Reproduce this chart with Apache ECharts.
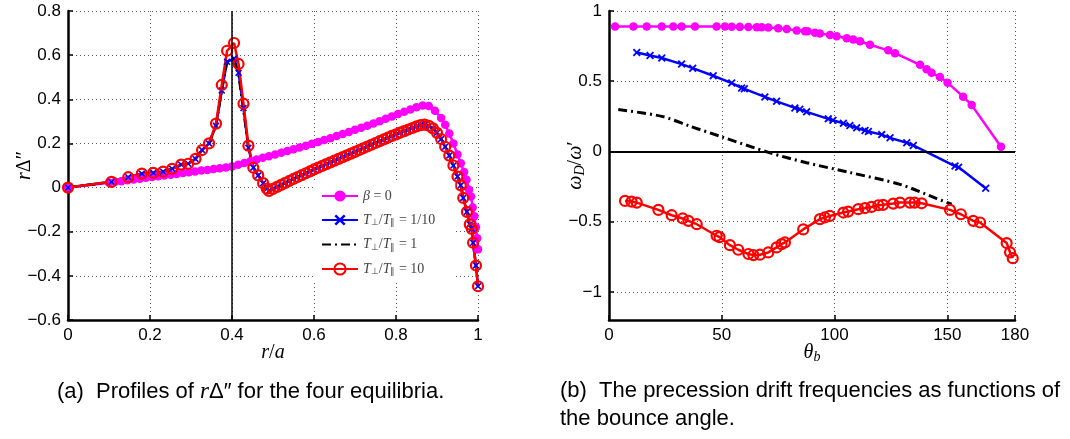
<!DOCTYPE html>
<html>
<head>
<meta charset="utf-8">
<script src="https://cdn.jsdelivr.net/npm/echarts@6/dist/echarts.min.js"></script>
<style>
  html, body { margin: 0; padding: 0; background: #fff; }
  #main { width: 1070px; height: 439px; }
</style>
</head>
<body>
<div id="main"></div>
<script>
// (a) r*Delta'' profiles, r/a grid shared by the three anisotropic cases
const rL = [
  0, 0.106, 0.147, 0.18, 0.208, 0.232, 0.254, 0.276, 0.293, 0.311,
  0.327, 0.344, 0.361, 0.375, 0.388, 0.405, 0.416, 0.428, 0.44, 0.452,
  0.464, 0.476, 0.485, 0.49, 0.50, 0.51, 0.52, 0.53, 0.54, 0.55,
  0.56, 0.57, 0.58, 0.59, 0.60, 0.61, 0.62, 0.63, 0.64, 0.65,
  0.66, 0.67, 0.68, 0.69, 0.70, 0.71, 0.72, 0.73, 0.74, 0.75,
  0.76, 0.77, 0.78, 0.79, 0.80, 0.81, 0.82, 0.83, 0.84, 0.85,
  0.86, 0.87, 0.88, 0.89, 0.90, 0.91, 0.92, 0.93, 0.94, 0.95,
  0.958, 0.964, 0.973, 0.98, 0.985, 0.988, 0.995, 1.0
];
const yRed = [
  0, 0.026, 0.047, 0.063, 0.067, 0.072, 0.085, 0.104, 0.108, 0.13,
  0.17, 0.2, 0.29, 0.465, 0.62, 0.655, 0.56, 0.38, 0.19, 0.09,
  0.055, 0.02, -0.005, -0.015, -0.006, 0.003, 0.012, 0.021, 0.03, 0.039,
  0.048, 0.056, 0.065, 0.073, 0.082, 0.09, 0.098, 0.106, 0.114, 0.122,
  0.13, 0.138, 0.146, 0.154, 0.162, 0.17, 0.178, 0.186, 0.194, 0.202,
  0.21, 0.218, 0.226, 0.234, 0.241, 0.249, 0.256, 0.263, 0.27, 0.277,
  0.283, 0.285, 0.28, 0.268, 0.248, 0.22, 0.185, 0.145, 0.1, 0.05,
  0.01, -0.047, -0.11, -0.167, -0.187, -0.25, -0.353, -0.447
];
const yBlue = [
  0, 0.026, 0.047, 0.063, 0.067, 0.072, 0.085, 0.104, 0.108, 0.13,
  0.17, 0.2, 0.28, 0.44, 0.57, 0.585, 0.52, 0.36, 0.18, 0.09,
  0.055, 0.02, -0.005, -0.015, -0.006, 0.003, 0.012, 0.021, 0.03, 0.039,
  0.048, 0.056, 0.065, 0.073, 0.082, 0.09, 0.098, 0.106, 0.114, 0.122,
  0.13, 0.138, 0.146, 0.154, 0.162, 0.17, 0.178, 0.186, 0.194, 0.202,
  0.21, 0.218, 0.226, 0.234, 0.241, 0.249, 0.256, 0.263, 0.27, 0.277,
  0.283, 0.285, 0.28, 0.268, 0.248, 0.22, 0.185, 0.145, 0.1, 0.05,
  0.01, -0.047, -0.11, -0.167, -0.187, -0.25, -0.353, -0.447
];
const yBlack = [
  0, 0.026, 0.047, 0.063, 0.067, 0.072, 0.085, 0.104, 0.108, 0.13,
  0.17, 0.2, 0.28, 0.44, 0.57, 0.58, 0.51, 0.35, 0.18, 0.09,
  0.055, 0.02, -0.005, -0.015, -0.006, 0.003, 0.012, 0.021, 0.03, 0.039,
  0.048, 0.056, 0.065, 0.073, 0.082, 0.09, 0.098, 0.106, 0.114, 0.122,
  0.13, 0.138, 0.146, 0.154, 0.162, 0.17, 0.178, 0.186, 0.194, 0.202,
  0.21, 0.218, 0.226, 0.234, 0.241, 0.249, 0.256, 0.263, 0.27, 0.277,
  0.283, 0.285, 0.28, 0.268, 0.248, 0.22, 0.185, 0.145, 0.1, 0.05,
  0.01, -0.047, -0.11, -0.167, -0.187, -0.25, -0.353, -0.447
];
// beta = 0 case has its own r grid
const rM = [
  0, 0.1, 0.115, 0.13, 0.145, 0.16, 0.175,
  0.19, 0.205, 0.22, 0.235, 0.25, 0.265, 0.28, 0.295, 0.31, 0.325,
  0.34, 0.355, 0.37, 0.385, 0.4, 0.415, 0.43, 0.445, 0.46, 0.475,
  0.49, 0.505, 0.52, 0.535, 0.55, 0.565, 0.58, 0.595, 0.61, 0.625,
  0.64, 0.655, 0.67, 0.685, 0.7, 0.715, 0.73, 0.745, 0.76, 0.775,
  0.79, 0.805, 0.82, 0.835, 0.85, 0.865, 0.88, 0.895, 0.91, 0.92,
  0.93, 0.94, 0.95, 0.958, 0.966, 0.972, 0.978, 0.983, 0.987, 0.991,
  0.995, 0.998, 1.0
];
const yM = [
  0, 0.022, 0.026, 0.029, 0.033, 0.037, 0.04,
  0.044, 0.048, 0.051, 0.055, 0.058, 0.062, 0.066, 0.069, 0.073, 0.077,
  0.08, 0.084, 0.088, 0.091, 0.095, 0.103, 0.111, 0.119, 0.127, 0.135,
  0.142, 0.15, 0.158, 0.166, 0.174, 0.182, 0.19, 0.198, 0.206, 0.215,
  0.224, 0.234, 0.243, 0.252, 0.262, 0.271, 0.28, 0.29, 0.301, 0.312,
  0.322, 0.333, 0.344, 0.354, 0.364, 0.372, 0.37, 0.348, 0.315, 0.285,
  0.245, 0.2, 0.15, 0.11, 0.07, 0.035, -0.01, -0.04, -0.09, -0.13,
  -0.18, -0.23, -0.28
];
const rMark = 0.4;   // vertical line in (a)

// (b) precession drift frequency vs bounce angle, [theta_b, omega_D/omega']
const wBeta0 = [
  [2.7, 0.89], [10.8, 0.89], [16.7, 0.89], [23.4, 0.89], [28.5, 0.89], [32.2, 0.89],
  [38.1, 0.89], [47.7, 0.89], [51.4, 0.89], [54.4, 0.888], [58, 0.887], [61.8, 0.886],
  [65.5, 0.885], [67.7, 0.884], [70.6, 0.882], [75, 0.878], [78.8, 0.872], [83.2, 0.862],
  [86.9, 0.856], [88, 0.855], [91.3, 0.845], [93.5, 0.84], [98, 0.83], [100.9, 0.82],
  [105.4, 0.806], [108.3, 0.797], [111.3, 0.785], [115.7, 0.76], [123.8, 0.72], [126.8, 0.70],
  [137.9, 0.617], [140.8, 0.586], [143, 0.56], [146.7, 0.53], [150.1, 0.49], [157, 0.39],
  [160.8, 0.33], [173.8, 0.033]
];
const wTen1 = [
  [12.3, 0.704], [18.2, 0.683], [23.4, 0.665], [32.2, 0.622], [37.1, 0.593], [46.2, 0.539],
  [54.4, 0.487], [58.8, 0.452], [60, 0.446], [69.1, 0.388], [74.3, 0.357], [82.4, 0.31],
  [84.6, 0.30], [87.6, 0.282], [97.2, 0.232], [99.3, 0.222], [103.9, 0.2], [106.8, 0.184],
  [109.8, 0.168], [113.5, 0.149], [115, 0.142], [120.9, 0.12], [124.6, 0.097], [132, 0.062],
  [134.9, 0.043], [153.4, -0.104], [155, -0.112], [167, -0.262]
];
const wIso = [
  [4.1, 0.298], [23.4, 0.25], [35.9, 0.18], [50, 0.104], [71.4, -0.01], [87.6, -0.08],
  [106.8, -0.15], [129, -0.234], [145.3, -0.336], [151.9, -0.376]
];
const wTen10 = [
  [7.1, -0.352], [10, -0.357], [12.3, -0.364], [21.9, -0.416], [27.8, -0.454], [32.7, -0.477],
  [35.2, -0.494], [38.9, -0.518], [47.7, -0.6], [49, -0.61], [53.6, -0.667], [57.3, -0.7],
  [61.8, -0.73], [64, -0.738], [66.9, -0.735], [70.6, -0.719], [74.3, -0.683], [76.5, -0.66],
  [78, -0.648], [86.1, -0.555], [93.5, -0.482], [95.7, -0.47], [97.9, -0.459], [103.9, -0.435],
  [106, -0.428], [110.5, -0.411], [113.5, -0.403], [116.4, -0.395], [119.4, -0.383], [121.5, -0.38],
  [126, -0.371], [129, -0.364], [133.4, -0.364], [135.5, -0.364], [138.6, -0.369], [151.2, -0.416],
  [156, -0.447], [161.5, -0.494], [164.5, -0.506], [176.3, -0.652], [177.8, -0.718], [179, -0.76]
];
const wZero = 0;     // horizontal line in (b)
const thetaTicks = [0, 50, 100, 150, 180];
const omegaTicks = [-1, -0.5, 0, 0.5, 1];

const legendNames = ['β = 0', 'T⊥/T∥ = 1/10', 'T⊥/T∥ = 1', 'T⊥/T∥ = 10'];

function zip(xs, ys) {
  return xs.map((x, i) => [x, ys[i]]);
}
function fmt(v) {
  return String(Math.round(v * 10) / 10).replace('-', '\u2212');
}

const sans = 'Liberation Sans, Arial, sans-serif';
const serif = 'Liberation Serif, Times New Roman, serif';
const mathRich = {
  i: { fontFamily: serif, fontStyle: 'italic', fontSize: 20, color: '#000' },
  n: { fontFamily: serif, fontSize: 20, color: '#000' },
  s: { fontFamily: serif, fontStyle: 'italic', fontSize: 14, color: '#000', padding: [8, 0, 0, 0] }
};

// blue "x" marker
const crossSym = 'path://M0,1.6L1.6,0L5,3.4L8.4,0L10,1.6L6.6,5L10,8.4L8.4,10L5,6.6L1.6,10L0,8.4L3.4,5Z';

function axisBase(extra) {
  return Object.assign({
    type: 'value',
    axisLine: { onZero: false, lineStyle: { color: '#000', width: 2.5 } },
    axisTick: { inside: true, length: 5, lineStyle: { color: '#000', width: 1.5 } },
    axisLabel: { color: '#000', fontSize: 17, fontFamily: sans, margin: 7, formatter: fmt },
    splitLine: { show: true, lineStyle: { color: '#555', width: 1, type: [1, 3] } },
    nameMoveOverlap: false,
    nameTextStyle: { rich: mathRich }
  }, extra);
}

let myChart = echarts.init(document.getElementById('main'));
var option = {
  animation: false,
  backgroundColor: '#fff',
  grid: [
    { left: 68, right: 592, top: 11, bottom: 119 },
    { left: 609, right: 55, top: 11, bottom: 119 }
  ],
  xAxis: [
    axisBase({ gridIndex: 0, min: 0, max: 1, interval: 0.2,
      name: '{i|r}{n|/}{i|a}', nameLocation: 'middle', nameGap: 23 }),
    axisBase({ gridIndex: 1, min: 0, max: 180,
      axisTick: { inside: true, length: 5, customValues: thetaTicks, lineStyle: { color: '#000', width: 1.5 } },
      axisLabel: { color: '#000', fontSize: 17, fontFamily: sans, margin: 7, customValues: thetaTicks },
      name: '{i|θ}{s|b}', nameLocation: 'middle', nameGap: 22 })
  ],
  yAxis: [
    axisBase({ gridIndex: 0, min: -0.6, max: 0.8, interval: 0.2,
      name: '{i|r}{n|Δ″}', nameLocation: 'middle', nameRotate: 90, nameGap: 33 }),
    axisBase({ gridIndex: 1, min: -1.2, max: 1,
      axisTick: { inside: true, length: 5, customValues: omegaTicks, lineStyle: { color: '#000', width: 1.5 } },
      axisLabel: { color: '#000', fontSize: 17, fontFamily: sans, margin: 7, customValues: omegaTicks,
        formatter: v => String(v).replace('-', '\u2212') },
      name: '{i|ω}{s|D}{n|/}{i|ω}{n|′}', nameLocation: 'middle', nameRotate: 90, nameGap: 22 })
  ],
  legend: {
    data: [legendNames[0], legendNames[1], { name: legendNames[2], itemStyle: { opacity: 0 } }, legendNames[3]],
    orient: 'vertical',
    left: 313, top: 183,
    padding: [6, 20, 6, 8],
    itemWidth: 36, itemHeight: 14, itemGap: 10,
    backgroundColor: '#fff',
    formatter: function (name) {
      if (name === legendNames[0]) return '{i|β}{n| = 0}';
      return '{i|T}{s|⊥}{n|/}{i|T}{s|∥}{n| ' + name.split(' ')[1] + ' ' + name.split(' ')[2] + '}';
    },
    textStyle: {
      rich: {
        i: { fontFamily: serif, fontStyle: 'italic', fontSize: 14, color: '#444' },
        n: { fontFamily: serif, fontSize: 14, color: '#444' },
        s: { fontFamily: serif, fontSize: 9, color: '#444', padding: [6, 0, 0, 0] }
      }
    }
  },
  series: [
    {
      name: legendNames[0], type: 'line', xAxisIndex: 0, yAxisIndex: 0,
      data: zip(rM, yM),
      symbol: 'circle', symbolSize: 8.5,
      itemStyle: { color: '#ff00ff' },
      lineStyle: { color: '#ff00ff', width: 2.5 },
      markLine: {
        silent: true, symbol: 'none', label: { show: false },
        lineStyle: { color: '#000', width: 1.5, type: 'solid' },
        data: [{ xAxis: rMark }]
      }
    },
    {
      name: legendNames[1], type: 'line', xAxisIndex: 0, yAxisIndex: 0,
      data: zip(rL, yBlue),
      symbol: crossSym, symbolSize: 7,
      itemStyle: { color: '#0000ff' },
      lineStyle: { color: '#0000ff', width: 2.5 }
    },
    {
      name: legendNames[2], type: 'line', xAxisIndex: 0, yAxisIndex: 0,
      data: zip(rL, yBlack),
      symbol: 'none',
      itemStyle: { color: '#000' },
      lineStyle: { color: '#000', width: 2.5, type: [9, 4, 2, 4] }
    },
    {
      name: legendNames[3], type: 'line', xAxisIndex: 0, yAxisIndex: 0,
      data: zip(rL, yRed),
      symbol: 'circle', symbolSize: 10,
      itemStyle: { color: 'rgba(255,0,0,0)', borderColor: '#ff0000', borderWidth: 2.2 },
      lineStyle: { color: '#ff0000', width: 2.5 }
    },
    {
      name: 'b_beta0', type: 'line', xAxisIndex: 1, yAxisIndex: 1,
      data: wBeta0,
      symbol: 'circle', symbolSize: 8.5,
      itemStyle: { color: '#ff00ff' },
      lineStyle: { color: '#ff00ff', width: 2.5 },
      markLine: {
        silent: true, symbol: 'none', label: { show: false },
        lineStyle: { color: '#000', width: 2, type: 'solid' },
        data: [{ yAxis: wZero }]
      }
    },
    {
      name: 'b_tenth', type: 'line', xAxisIndex: 1, yAxisIndex: 1,
      data: wTen1,
      symbol: crossSym, symbolSize: 8,
      itemStyle: { color: '#0000ff' },
      lineStyle: { color: '#0000ff', width: 2.5 }
    },
    {
      name: 'b_iso', type: 'line', xAxisIndex: 1, yAxisIndex: 1,
      data: wIso, smooth: 0.3,
      symbol: 'none',
      lineStyle: { color: '#000', width: 3, type: [9, 4, 2, 4] }
    },
    {
      name: 'b_ten', type: 'line', xAxisIndex: 1, yAxisIndex: 1,
      data: wTen10,
      symbol: 'circle', symbolSize: 10,
      itemStyle: { color: 'rgba(255,0,0,0)', borderColor: '#ff0000', borderWidth: 2.2 },
      lineStyle: { color: '#ff0000', width: 2.5 }
    }
  ],
  graphic: [
    {
      type: 'text', left: 57, top: 380,
      style: {
        text: '(a)  Profiles of {i|r}Δ″ for the four equilibria.',
        fontFamily: sans, fontSize: 22, fill: '#000',
        rich: { i: { fontFamily: serif, fontStyle: 'italic', fontSize: 23 } }
      }
    },
    {
      type: 'text', left: 560, top: 380,
      style: { text: '(b)  The precession drift frequencies as functions of', fontFamily: sans, fontSize: 22, fill: '#000' }
    },
    {
      type: 'text', left: 560, top: 408,
      style: { text: 'the bounce angle.', fontFamily: sans, fontSize: 22, fill: '#000' }
    }
  ]
};
myChart.setOption(option);
</script>
</body>
</html>
